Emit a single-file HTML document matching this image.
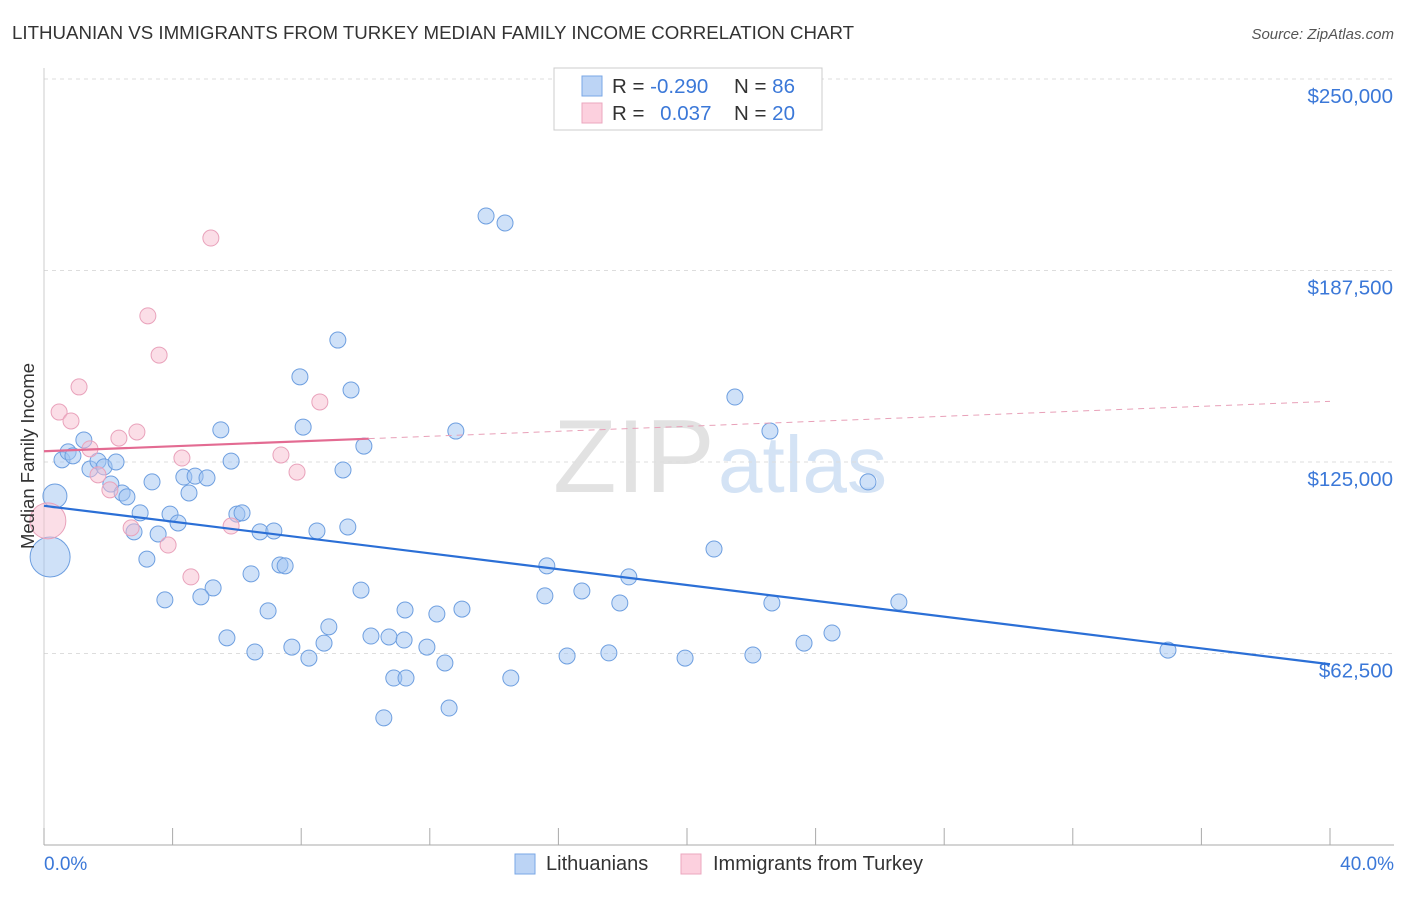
<!DOCTYPE html>
<html><head><meta charset="utf-8"><style>
body{margin:0;background:#fff;font-family:"Liberation Sans",sans-serif;}
svg text{font-family:"Liberation Sans",sans-serif;}
</style></head><body>
<svg id="chart" width="1406" height="892">
<text x="12" y="39" font-size="18.7" fill="#333">LITHUANIAN VS IMMIGRANTS FROM TURKEY MEDIAN FAMILY INCOME CORRELATION CHART</text>
<text x="1394" y="39" font-size="15" fill="#555" font-style="italic" text-anchor="end">Source: ZipAtlas.com</text>
<g>
<text x="553" y="492" font-size="104" fill="#e2e2e2" font-family="Liberation Serif">ZIP</text>
<text x="718" y="492" font-size="80" fill="#d4e3f5">atlas</text>
</g>
<g id="grid"></g>
<g id="axes"></g>
<g id="marks"></g>
<text transform="translate(34,456) rotate(-90)" font-size="18.5" fill="#333" text-anchor="middle">Median Family Income</text>
<text x="44" y="870" font-size="19" fill="#3b78d8">0.0%</text>
<text x="1394" y="870" font-size="19" fill="#3b78d8" text-anchor="end">40.0%</text>
<g>
<rect x="554" y="68" width="268" height="62" fill="#fff" stroke="#ccc"/>
<rect x="582" y="76" width="20" height="20" fill="#bcd4f5" stroke="#7aa7e6"/>
<rect x="582" y="103" width="20" height="20" fill="#fcd0de" stroke="#eba7bf"/>
<text x="612" y="93" font-size="20.5" fill="#333">R = <tspan fill="#3b78d8">-0.290</tspan></text>
<text x="734" y="93" font-size="20.5" fill="#333">N = <tspan fill="#3b78d8">86</tspan></text>
<text x="612" y="120" font-size="20.5" fill="#333">R = <tspan fill="#3b78d8" dx="10">0.037</tspan></text>
<text x="734" y="120" font-size="20.5" fill="#333">N = <tspan fill="#3b78d8">20</tspan></text>
</g>
<g>
<rect x="515" y="854" width="20" height="20" fill="#bcd4f5" stroke="#7aa7e6"/>
<text x="546" y="870" font-size="20" fill="#333">Lithuanians</text>
<rect x="681" y="854" width="20" height="20" fill="#fcd0de" stroke="#eba7bf"/>
<text x="713" y="870" font-size="20" fill="#333">Immigrants from Turkey</text>
</g>
</svg>
<script>
const yTicks=[62500,125000,187500,250000];
const yTickLabels=["$62,500","$125,000","$187,500","$250,000"];
const xTicks=[0,4,8,12,16,20,24,28,32,36,40];
const blueX=[0.19,0.34,0.56,0.75,0.90,1.24,1.43,1.68,1.87,2.08,2.24,2.43,2.58,2.80,2.99,3.20,3.36,3.55,3.76,3.92,4.17,4.35,4.51,4.70,5.07,5.26,4.88,5.50,5.69,5.82,6.00,6.16,6.44,6.56,6.72,6.97,7.15,7.34,7.50,7.71,7.96,8.06,8.24,8.49,8.71,8.86,9.14,9.30,9.45,9.55,9.86,9.95,10.17,10.73,10.57,10.88,11.20,11.26,11.23,11.91,12.22,12.47,12.60,12.81,13.00,13.75,14.34,14.52,15.58,15.64,16.27,16.73,17.57,17.91,18.19,19.94,20.84,21.49,22.05,22.58,22.64,23.64,24.51,25.63,26.59,34.96];
const blueY=[94000,113900,125700,128300,127000,132200,122700,125300,123400,117800,125000,114900,113600,102200,108400,93300,118500,101500,80000,108000,105100,120100,114900,120400,119800,83900,81000,135500,67600,125300,108000,108400,88500,63000,102200,76400,102500,91400,91100,64600,152800,136400,61000,102500,65900,71200,164800,122400,103800,148500,83200,130200,68200,67900,41500,54500,66900,54500,76700,64600,75400,59400,44700,135100,77000,205300,203000,54500,81300,91100,61700,82900,62700,79000,87500,61000,96600,146200,62000,135100,79000,65900,69200,118500,79300,63600];
const blueR=[20,12];
const pinkX=[0.12,0.47,0.84,1.09,1.43,1.68,2.05,2.33,2.71,2.89,3.23,3.58,3.86,4.29,4.57,5.19,5.82,7.37,7.87,8.58];
const pinkY=[105800,141300,138400,149500,129300,120800,115900,132800,103500,134800,172700,159900,97900,126300,87500,198100,104100,127300,121700,144600];
const blueTrend=[[0,110700],[40,59000]];
const pinkTrend=[[0,128500],[40,144800]];
const pinkSolidEnd=10.1;

const NS="http://www.w3.org/2000/svg";
const X=v=>44+v/40*1286;
const Y=v=>845-v/250000*766;
function mk(tag,attrs,parent){const e=document.createElementNS(NS,tag);for(const k in attrs)e.setAttribute(k,attrs[k]);parent.appendChild(e);return e;}
const grid=document.getElementById('grid'),axes=document.getElementById('axes'),marks=document.getElementById('marks');
yTicks.forEach((t,i)=>{
 const l=mk('line',{x1:44,x2:1394,y1:Y(t),y2:Y(t),stroke:'#ddd','stroke-dasharray':'4,4'},grid);
 
 
 const tx=mk('text',{x:1393,y:Y(t)+24,'font-size':20.5,fill:'#3b78d8','text-anchor':'end'},axes);
 tx.textContent=yTickLabels[i];
 
 
});
const ax=mk('line',{x1:44,x2:1394,y1:845,y2:845,stroke:'#aaa'},axes);


const ay=mk('line',{x1:44,x2:44,y1:68,y2:845,stroke:'#ccc'},axes);


xTicks.forEach(t=>{
 const l=mk('line',{x1:X(t),x2:X(t),y1:828,y2:845,stroke:'#aaa'},axes);
 
 
});
blueX.forEach((x,i)=>{
 const c=mk('circle',{cx:X(x),cy:Y(blueY[i]),r:blueR[i]||8,fill:'rgba(160,196,242,0.5)',stroke:'#6e9fe0','stroke-width':1},marks);
 
 
});
pinkX.forEach((x,i)=>{
 const c=mk('circle',{cx:X(x),cy:Y(pinkY[i]),r:i===0?18:8,fill:'rgba(248,190,208,0.5)',stroke:'#e9a2bb','stroke-width':1},marks);
 
 
});
const bl=mk('line',{x1:X(blueTrend[0][0]),y1:Y(blueTrend[0][1]),x2:X(blueTrend[1][0]),y2:Y(blueTrend[1][1]),stroke:'#2b6fd6','stroke-width':2.2},marks);


const py=x=>pinkTrend[0][1]+(pinkTrend[1][1]-pinkTrend[0][1])*x/40;
const ps=mk('line',{x1:X(0),y1:Y(py(0)),x2:X(pinkSolidEnd),y2:Y(py(pinkSolidEnd)),stroke:'#e36b92','stroke-width':2.2},marks);


const pd=mk('line',{x1:X(pinkSolidEnd),y1:Y(py(pinkSolidEnd)),x2:X(40),y2:Y(py(40)),stroke:'#e8a0b8','stroke-width':1,'stroke-dasharray':'6,5'},marks);


</script>
</body></html>
